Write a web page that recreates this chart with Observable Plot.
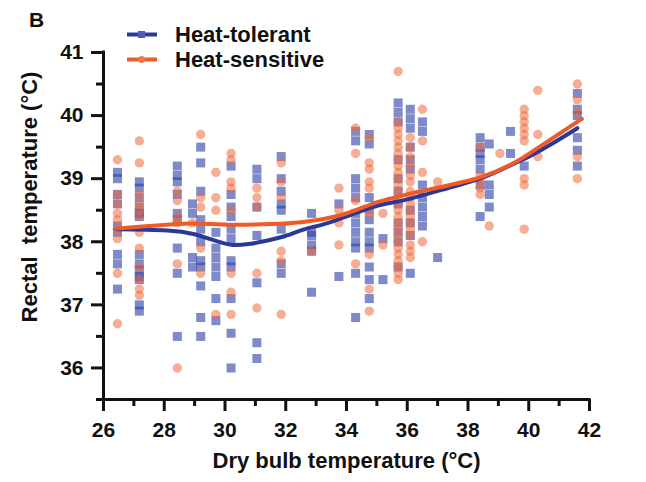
<!DOCTYPE html>
<html>
<head>
<meta charset="utf-8">
<script src="https://cdn.jsdelivr.net/npm/d3@7"></script>
<script src="https://cdn.jsdelivr.net/npm/@observablehq/plot@0.6"></script>
<style>
  html, body { margin: 0; padding: 0; background: #fff; }
  #wrap { position: relative; width: 646px; height: 482px; font-family: "Liberation Sans", Arial, sans-serif; }
  #wrap svg text { font-weight: bold; fill: #111; }
  .panel { position: absolute; left: 29px; top: 8px; font-size: 21px; font-weight: bold; color: #111; }
  .legend { position: absolute; left: 126px; top: 22px; font-size: 22px; font-weight: bold; color: #111; }
  .legend .row { display: flex; align-items: center; height: 25px; }
  .legend svg { margin-right: 17px; }
</style>
</head>
<body>
<div id="wrap">
  <div class="panel">B</div>
  <div class="legend" id="legend"></div>
</div>
<script>
// Dry bulb temperature columns (°C) and rectal temperatures
const tolerantX = [26.46, 27.18, 28.43, 28.93, 29.2, 29.7, 30.2, 31.05, 31.85, 32.85, 33.75, 34.3, 34.75, 35.2, 35.7, 36.1, 36.5, 37.0, 38.4, 38.7, 39.4, 39.85, 41.6];
const tolerantY = [
  [39.1, 39.0, 38.75, 38.6, 38.25, 38.15, 37.8, 37.65, 37.25],
  [38.95, 38.85, 38.7, 38.55, 38.45, 38.4, 37.8, 37.65, 37.55, 37.45, 37.4, 37.0, 36.9],
  [39.2, 39.05, 38.95, 38.75, 38.45, 38.35, 37.9, 37.5, 36.5],
  [38.6, 38.45, 37.75, 37.6],
  [39.5, 39.25, 38.8, 38.35, 38.2, 38.0, 37.7, 37.6, 37.3, 36.8, 36.5],
  [38.15, 37.9, 37.75, 37.6, 37.45, 37.1, 36.75],
  [39.2, 38.75, 38.55, 38.4, 38.2, 38.05, 37.7, 37.6, 37.1, 36.55, 36.0],
  [39.15, 39.0, 38.55, 38.1, 37.35, 36.4, 36.15],
  [39.35, 39.0, 38.8, 38.6, 38.5, 38.2, 37.65, 37.5],
  [38.45, 38.15, 38.1, 37.95, 37.85, 37.2],
  [38.6, 37.45],
  [39.75, 39.6, 39.0, 38.85, 38.7, 38.45, 38.3, 38.15, 38.0, 37.9, 37.5, 36.8],
  [39.7, 39.55, 38.7, 38.5, 38.35, 38.15, 38.0, 37.9, 37.6, 37.4, 37.1],
  [38.05, 37.4],
  [40.2, 40.05, 39.9, 39.3, 39.0, 38.8, 38.6, 38.3, 38.15, 38.0, 37.6],
  [40.1, 39.95, 39.8, 39.5, 39.3, 39.15, 38.5, 38.3, 38.1, 37.5],
  [39.9, 39.75, 38.9, 38.7, 38.55, 38.4, 38.25],
  [37.75],
  [39.65, 39.5, 39.4, 39.3, 39.15, 38.9, 38.4],
  [39.55, 38.9, 38.75, 38.55],
  [39.75, 39.4],
  [39.2],
  [40.35, 40.1, 40.0, 39.65, 39.45, 39.2]
];
const sensitiveX = [26.46, 27.18, 28.43, 28.93, 29.2, 29.7, 30.2, 31.05, 31.85, 32.85, 33.75, 34.3, 34.75, 35.2, 35.7, 36.1, 36.5, 37.0, 38.4, 38.7, 39.05, 39.85, 40.3, 41.6];
const sensitiveY = [
  [39.3, 38.75, 38.6, 38.45, 38.35, 38.2, 38.05, 37.5, 36.7],
  [39.6, 39.25, 38.75, 38.6, 38.5, 38.4, 38.15, 37.9, 37.6, 37.4, 37.25, 37.15],
  [38.8, 38.65, 38.4, 38.3, 37.65, 36.0],
  [38.3],
  [39.7, 38.7, 38.55, 37.9, 37.5],
  [39.1, 38.7, 38.5, 36.85],
  [39.4, 39.3, 38.95, 38.85, 38.5, 37.5, 37.2, 36.85],
  [38.85, 38.7, 38.55, 37.5, 36.95],
  [39.25, 38.95, 38.7, 37.85, 37.7, 36.85],
  [37.85],
  [38.85, 38.5, 38.3, 37.95],
  [39.8, 39.4, 38.65, 37.65],
  [39.65, 39.25, 39.15, 38.95, 38.85, 38.45, 37.8, 37.25, 36.9],
  [38.45, 37.95],
  [40.7, 39.9, 39.8, 39.7, 39.6, 39.5, 39.4, 39.3, 39.2, 39.1, 39.0, 38.9, 38.8, 38.7, 38.6, 38.5, 38.4, 38.3, 38.2, 38.1, 38.0, 37.9, 37.8, 37.7, 37.6, 37.5, 37.4],
  [39.65, 39.5, 39.35, 39.2, 39.05, 38.95, 38.8, 38.7, 38.6, 38.5, 38.4, 38.3, 38.2, 38.1, 37.95, 37.85, 37.75],
  [40.1, 39.6, 39.1, 38.0],
  [38.95],
  [39.5, 39.05, 38.95, 38.85, 38.75],
  [38.25],
  [39.4],
  [40.1, 40.0, 39.9, 39.8, 39.7, 39.6, 39.0, 38.9, 38.2],
  [40.4, 39.7, 39.35],
  [40.5, 40.25, 40.05, 39.35, 39.0]
];
// Fitted curves
const tolerantFitX = [26.46, 28.1, 29.0, 29.6, 30.3, 30.85, 31.4, 31.9, 32.5, 33.4, 34.1, 35.1, 35.9, 37.4, 38.4, 39.7, 40.0, 41.6];
const tolerantFitY = [38.2, 38.18, 38.12, 38.03, 37.95, 37.97, 38.02, 38.08, 38.18, 38.3, 38.42, 38.58, 38.66, 38.86, 39.0, 39.28, 39.35, 39.8];
const sensitiveFitX = [26.46, 27.5, 28.9, 30.2, 31.5, 32.5, 33.8, 35.1, 35.9, 37.4, 38.4, 39.7, 40.4, 41.75];
const sensitiveFitY = [38.21, 38.25, 38.29, 38.27, 38.28, 38.31, 38.42, 38.64, 38.74, 38.9, 39.02, 39.3, 39.52, 39.95];
// Axis ticks
const xMajor = [26, 28, 30, 32, 34, 36, 38, 40, 42];
const xMinor = [27, 29, 31, 33, 35, 37, 39, 41];
const yMajor = [36, 37, 38, 39, 40, 41];
const yMinor = [35.5, 36.5, 37.5, 38.5, 39.5, 40.5];
const seriesNames = ["Heat-tolerant", "Heat-sensitive"];
const blueDot = "#2f42aa", orangeDot = "#ef6a3a";
const blueLine = "#2a3896", orangeLine = "#ef5a26";

const flatten = (xs, ys) => xs.flatMap((x, i) => ys[i].map(y => ({x, y})));
const tolerant = flatten(tolerantX, tolerantY);
const sensitive = flatten(sensitiveX, sensitiveY);
const tolFit = tolerantFitX.map((x, i) => ({x, y: tolerantFitY[i]}));
const senFit = sensitiveFitX.map((x, i) => ({x, y: sensitiveFitY[i]}));

const axisStyle = {stroke: "#111", strokeWidth: 3, fontSize: 21, fontWeight: "bold"};
const chart = Plot.plot({
  width: 646, height: 482,
  marginLeft: 103, marginRight: 57, marginTop: 52, marginBottom: 83,
  x: {domain: [26, 42]},
  y: {domain: [35.5, 41]},
  style: {fontFamily: "Liberation Sans, Arial, sans-serif", background: "#fff", overflow: "visible"},
  marks: [
    Plot.dot(tolerant, {x: "x", y: "y", symbol: "square", r: 5.1, fill: blueDot, fillOpacity: 0.62, stroke: "none"}),
    Plot.dot(sensitive, {x: "x", y: "y", symbol: "circle", r: 4.7, fill: orangeDot, fillOpacity: 0.55, stroke: "none"}),
    Plot.line(tolFit, {x: "x", y: "y", stroke: blueLine, strokeWidth: 4, curve: "monotone-x"}),
    Plot.line(senFit, {x: "x", y: "y", stroke: orangeLine, strokeWidth: 4, curve: "monotone-x"}),
    Plot.ruleY([35.5], {stroke: "#111", strokeWidth: 3, strokeLinecap: "square"}),
    Plot.ruleX([26], {stroke: "#111", strokeWidth: 3, strokeLinecap: "square"}),
    Plot.axisX(xMajor, {...axisStyle, tickSize: 12, tickPadding: 11, tickFormat: d3.format("d"), label: null}),
    Plot.axisX(xMinor, {...axisStyle, tickSize: 7, tickFormat: () => "", label: null}),
    Plot.axisY(yMajor, {...axisStyle, tickSize: 12, tickPadding: 8, tickFormat: d3.format("d"), label: null}),
    Plot.axisY(yMinor, {...axisStyle, tickSize: 7, tickFormat: () => "", label: null}),
    Plot.text(["Dry bulb temperature (°C)"], {frameAnchor: "bottom", textAnchor: "middle", lineAnchor: "middle", dy: 61, fontSize: 22, fontWeight: "bold", fill: "#111"}),
    Plot.text(["Rectal  temperature (°C)"], {frameAnchor: "left", textAnchor: "middle", lineAnchor: "middle", rotate: -90, dx: -74, dy: -29, fontSize: 22, fontWeight: "bold", fill: "#111"})
  ]
});
document.getElementById("wrap").prepend(chart);

// Legend
const legend = document.getElementById("legend");
seriesNames.forEach((name, i) => {
  const color = i === 0 ? blueLine : orangeLine;
  const marker = i === 0
    ? `<rect x="12" y="4" width="7" height="7" fill="#4a5cc0"/>`
    : `<circle cx="15.5" cy="7.5" r="3.5" fill="#f07a4e"/>`;
  const row = document.createElement("div");
  row.className = "row";
  row.innerHTML = `<svg width="32" height="15"><line x1="1" x2="31" y1="7.5" y2="7.5" stroke="${color}" stroke-width="4"/>${marker}</svg><span>${name}</span>`;
  legend.appendChild(row);
});
</script>
</body>
</html>
